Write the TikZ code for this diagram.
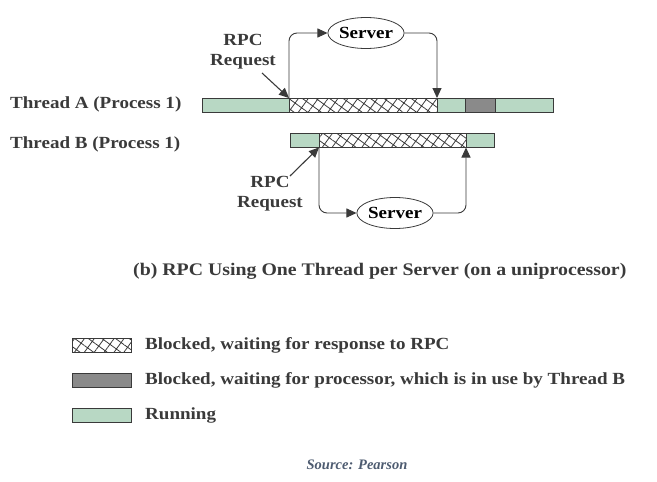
\documentclass[tikz,border=0pt]{standalone}
\usepackage{fontspec}
\setmainfont{Liberation Serif}[FakeStretch=1.12]
\newfontfamily\srcfont{Liberation Serif}[FakeStretch=1.0]
\usetikzlibrary{arrows.meta,patterns.meta,shapes.geometric}
\definecolor{runcol}{HTML}{B8D8C4}
\definecolor{waitcol}{HTML}{8A8A8A}
\definecolor{edgecol}{HTML}{3A3A3A}
\definecolor{srccol}{HTML}{4D5B70}
\tikzset{
  seg/.style={draw=edgecol,line width=1pt,inner sep=0pt,minimum height=14pt,anchor=west,outer sep=0pt},
  runseg/.style={seg,fill=runcol},
  waitseg/.style={seg,fill=waitcol},
  blockseg/.style={seg,pattern={Hatch[angle=54,distance=8pt,line width=0.8pt]},pattern color=edgecol},
  server/.style={ellipse,draw=edgecol,line width=0.8pt,minimum width=70pt,minimum height=31pt,inner sep=0pt,font=\bfseries\fontsize{17}{20}\selectfont},
  conn/.style={draw=edgecol,line width=0.9pt,rounded corners=8pt,-{Triangle[length=10pt,width=9pt]}},
  lbl/.style={font=\bfseries\fontsize{17}{20}\selectfont,text=edgecol,inner sep=0pt},
}
\begin{document}
\begin{tikzpicture}[x=1pt,y=-1pt]
\useasboundingbox (0,0) rectangle (657,482);
% Thread A
\node[lbl,anchor=west] (ta) at (10,104) {Thread A (Process 1)};
\node[runseg,minimum width=87pt] (a1) at (202,105) {};
\node[blockseg,minimum width=148pt] (a2) at (289,105) {};
\node[runseg,minimum width=28pt] (a3) at (437,105) {};
\node[waitseg,minimum width=30pt] (a4) at (465,105) {};
\node[runseg,minimum width=58pt] (a5) at (495,105) {};
% Thread B
\node[lbl,anchor=west] (tb) at (10,144) {Thread B (Process 1)};
\node[runseg,minimum width=29pt] (b1) at (290,140.5) {};
\node[blockseg,minimum width=147pt] (b2) at (319,140.5) {};
\node[runseg,minimum width=28pt] (b3) at (466,140.5) {};
% servers
\node[server] (s1) at (366,33) {Server};
\node[server] (s2) at (395,213) {Server};
\draw[conn] (a2.north west) |- (s1.west);
\draw[conn] (s1.east) -| (a2.north east);
\draw[conn] (b2.south west) |- (s2.west);
\draw[conn] (s2.east) -| (b2.south east);
% RPC request labels
\node[lbl,align=center] (r1) at (243,52) {RPC\\[0pt]Request};
\node[lbl,align=center] (r2) at (270,194) {RPC\\[0pt]Request};
\coordinate (r1s) at (262,73);
\coordinate (r2s) at (290,176);
\draw[draw=edgecol,line width=1.1pt,-{Triangle[length=10pt,width=9pt]}] (r1s) -- (a2.north west);
\draw[draw=edgecol,line width=1.1pt,-{Triangle[length=10pt,width=9pt]}] (r2s) -- (b2.south west);
% caption
\node[lbl,anchor=west,font=\bfseries\fontsize{17.7}{20}\selectfont] (cap) at (133,271) {(b) RPC Using One Thread per Server (on a uniprocessor)};
% legend
\node[blockseg,minimum width=59pt] (l1) at (72,345) {};
\node[waitseg,minimum width=59pt] (l2) at (72,380) {};
\node[runseg,minimum width=59pt] (l3) at (72,415) {};
\node[lbl,anchor=west] (t1) at (145,345) {Blocked, waiting for response to RPC};
\node[lbl,anchor=west] (t2) at (145,380) {Blocked, waiting for processor, which is in use by Thread B};
\node[lbl,anchor=west] (t3) at (145,415) {Running};
% source
\node[font=\srcfont\bfseries\itshape\fontsize{14.5}{16}\selectfont,text=srccol,inner sep=0pt] (src) at (357,465) {Source: Pearson};
\end{tikzpicture}
\end{document}
